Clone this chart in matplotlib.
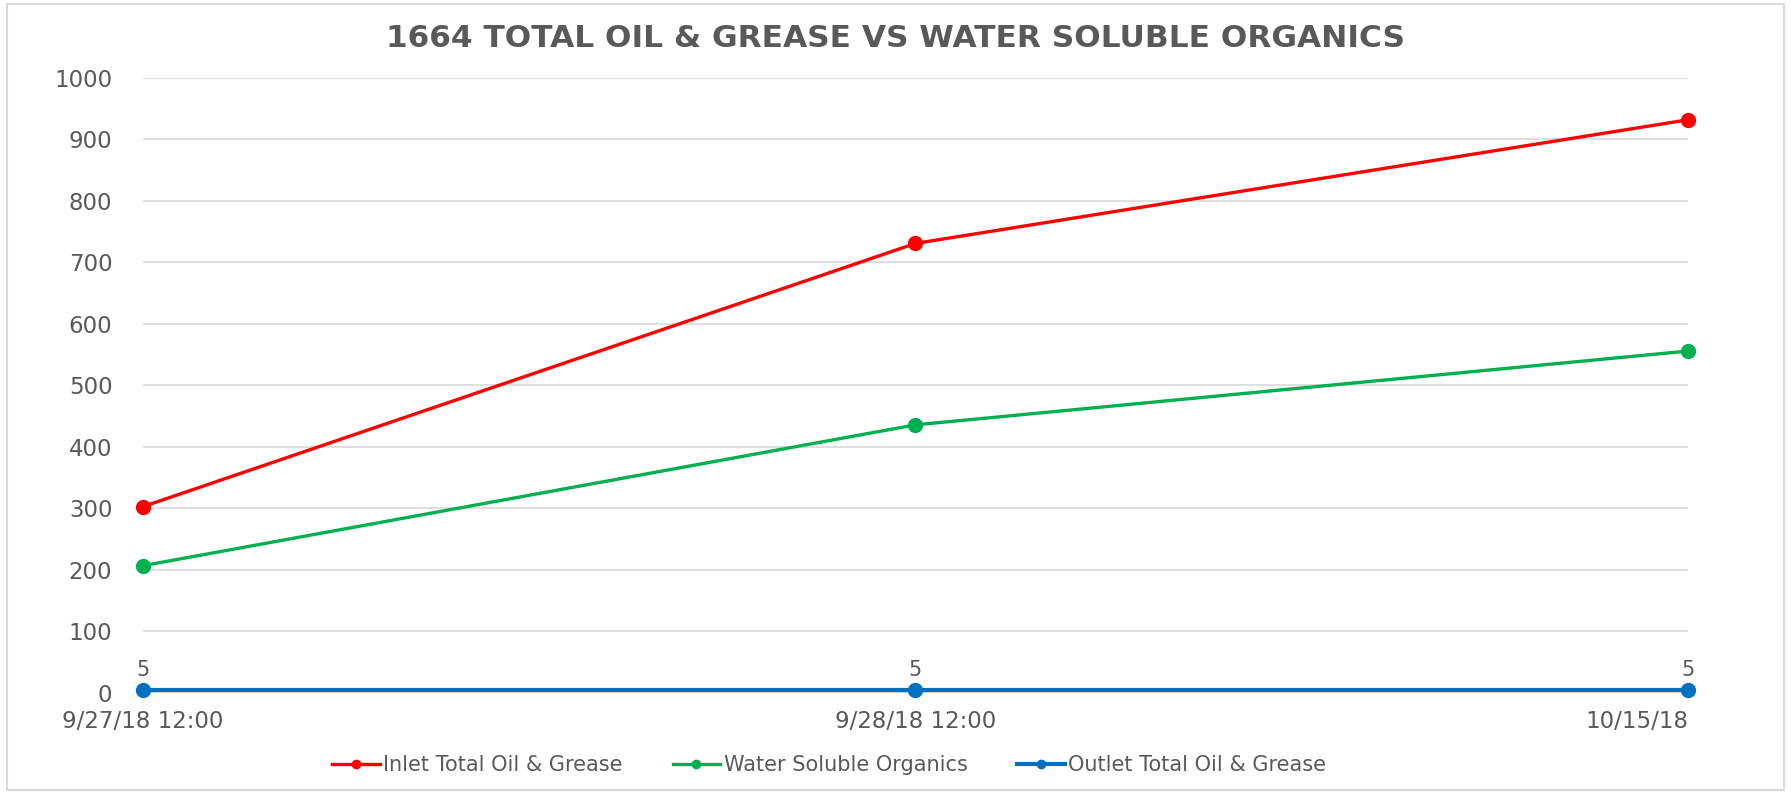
import matplotlib
matplotlib.use("Agg")
import matplotlib.pyplot as plt
from matplotlib.patches import Rectangle

# Data
dates = ["9/27/18 12:00", "9/28/18 12:00", "10/15/18"]
inlet = [303, 731, 932]
water_soluble = [207, 436, 556]
outlet = [5, 5, 5]

title = "1664 TOTAL OIL & GREASE VS WATER SOLUBLE ORGANICS"
gray = "#595959"

fig = plt.figure(figsize=(17.91, 7.94), dpi=100)
ax = fig.add_axes([0.0798, 0.1272, 0.8627, 0.7746])

x = list(range(len(dates)))
ax.plot(x, inlet, color="#FF0000", lw=2.4, marker="o", ms=10, clip_on=False,
        label="Inlet Total Oil & Grease", zorder=3)
ax.plot(x, water_soluble, color="#00B050", lw=2.4, marker="o", ms=10, clip_on=False,
        label="Water Soluble Organics", zorder=3)
ax.plot(x, outlet, color="#0070C0", lw=3, marker="o", ms=10, clip_on=False,
        label="Outlet Total Oil & Grease", zorder=4)

# data labels on outlet series
for xi, v in zip(x, outlet):
    ax.annotate(str(v), (xi, v), xytext=(0, 7), textcoords="offset points",
                ha="center", va="bottom", fontsize=15, color=gray)

ax.set_xlim(0, len(dates) - 1)
ax.set_ylim(0, 1000)
ax.set_yticks(range(0, 1001, 100))
ax.set_xticks(x)
ax.set_xticklabels(dates)
labels = ax.get_xticklabels()
labels[-1].set_ha("right")

ax.tick_params(axis="both", length=0, labelsize=16.5, labelcolor=gray)
ax.tick_params(axis="y", pad=22)
ax.tick_params(axis="x", pad=12)
ax.grid(axis="y", color="#D9D9D9", lw=1.2)
ax.set_axisbelow(True)
for s in ax.spines.values():
    s.set_visible(False)

fig.text(0.5, 0.952, title, ha="center", va="center", fontsize=22.5,
         fontweight="bold", color=gray)

fig.legend(loc="center", bbox_to_anchor=(0.463, 0.036), ncol=3, frameon=False,
           prop={"size": 15}, labelcolor=gray, handlelength=2.3,
           handletextpad=0.15, columnspacing=2.4, markerscale=0.6)

# light border around the chart area
fig.patches.append(Rectangle((0.004, 0.005), 0.992, 0.99, transform=fig.transFigure,
                             fill=False, ec="#D9D9D9", lw=1.5))

fig.savefig("out.png", dpi=100)
